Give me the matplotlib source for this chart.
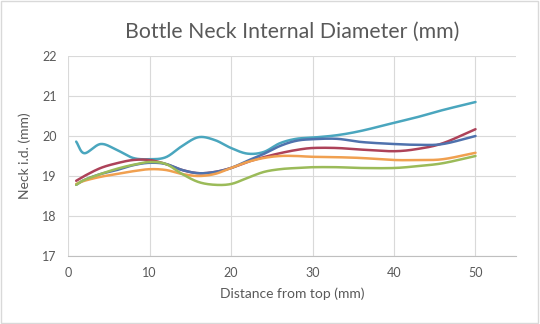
import numpy as np
import matplotlib.pyplot as plt
from matplotlib.patches import Rectangle

# Measurement positions along the neck (mm)
distance = [1, 2, 4, 6, 8, 10, 12, 14, 16, 18, 20, 22, 24, 26, 28, 30, 33, 36, 40, 43, 46, 50]

# Internal diameter of each bottle (mm)
bottle_1 = [19.86, 19.57, 19.80, 19.65, 19.45, 19.42, 19.47, 19.75, 19.97, 19.90, 19.70,
            19.56, 19.60, 19.82, 19.93, 19.96, 20.02, 20.13, 20.33, 20.48, 20.65, 20.85]
bottle_2 = [18.88, 19.00, 19.20, 19.32, 19.40, 19.40, 19.30, 19.15, 19.07, 19.10, 19.20,
            19.35, 19.47, 19.57, 19.65, 19.70, 19.70, 19.66, 19.62, 19.68, 19.82, 20.17]
bottle_3 = [18.78, 18.90, 19.05, 19.15, 19.27, 19.33, 19.30, 19.15, 19.07, 19.10, 19.20,
            19.38, 19.55, 19.75, 19.88, 19.92, 19.93, 19.85, 19.80, 19.78, 19.80, 20.00]
bottle_4 = [18.80, 18.88, 18.98, 19.05, 19.12, 19.17, 19.15, 19.05, 19.00, 19.05, 19.20,
            19.35, 19.45, 19.50, 19.50, 19.48, 19.47, 19.45, 19.40, 19.40, 19.42, 19.58]
bottle_5 = [18.78, 18.90, 19.05, 19.18, 19.28, 19.35, 19.30, 19.05, 18.85, 18.78, 18.80,
            18.95, 19.10, 19.17, 19.20, 19.22, 19.22, 19.20, 19.20, 19.25, 19.32, 19.50]

series = [bottle_1, bottle_2, bottle_3, bottle_4, bottle_5]
colors = ['#4AA6BE', '#AD4259', '#4F72AD', '#F0A050', '#9BBB59']


def smooth(x, y, n=30):
    # Catmull-Rom curve through the points, like a smoothed line chart
    x = np.asarray(x, float)
    y = np.asarray(y, float)
    px = np.concatenate([[2 * x[0] - x[1]], x, [2 * x[-1] - x[-2]]])
    py = np.concatenate([[2 * y[0] - y[1]], y, [2 * y[-1] - y[-2]]])
    xs, ys = [], []
    t = np.linspace(0, 1, n, endpoint=False)
    for i in range(1, len(px) - 2):
        for arr, out in ((px, xs), (py, ys)):
            p0, p1, p2, p3 = arr[i - 1], arr[i], arr[i + 1], arr[i + 2]
            out.extend(0.5 * (2 * p1 + (-p0 + p2) * t
                              + (2 * p0 - 5 * p1 + 4 * p2 - p3) * t ** 2
                              + (-p0 + 3 * p1 - 3 * p2 + p3) * t ** 3))
    xs.append(x[-1])
    ys.append(y[-1])
    return np.array(xs), np.array(ys)


plt.rcParams['font.family'] = ['Lato', 'DejaVu Sans']
text_color = '#595959'

fig = plt.figure(figsize=(5.4, 3.24), dpi=100)
ax = fig.add_axes([0.126, 0.21, 0.83, 0.617])

for vals, c in zip(series, colors):
    sx, sy = smooth(distance, vals)
    ax.plot(sx, sy, color=c, lw=1.8, solid_capstyle='round')

ax.set_xlim(0, 55)
ax.set_ylim(17, 22)
ax.set_xticks([0, 10, 20, 30, 40, 50])
ax.set_yticks([17, 18, 19, 20, 21, 22])
ax.grid(True, color='#D9D9D9', lw=0.8)
ax.set_axisbelow(True)
for side in ['top', 'right', 'left']:
    ax.spines[side].set_visible(False)
ax.spines['bottom'].set_color('#BFBFBF')
ax.tick_params(length=0, labelsize=9, colors=text_color, pad=8)

ax.set_title('Bottle Neck Internal Diameter (mm)', fontsize=15.3, color=text_color, pad=13)
ax.set_xlabel('Distance from top (mm)', fontsize=10, color=text_color, labelpad=6)
ax.set_ylabel('Neck i.d. (mm)', fontsize=10, color=text_color, labelpad=8)

fig.patches.append(Rectangle((0.002, 0.003), 0.995, 0.994, transform=fig.transFigure,
                             fill=False, edgecolor='#D9D9D9', lw=1))

plt.savefig('out.png')
plt.close()
